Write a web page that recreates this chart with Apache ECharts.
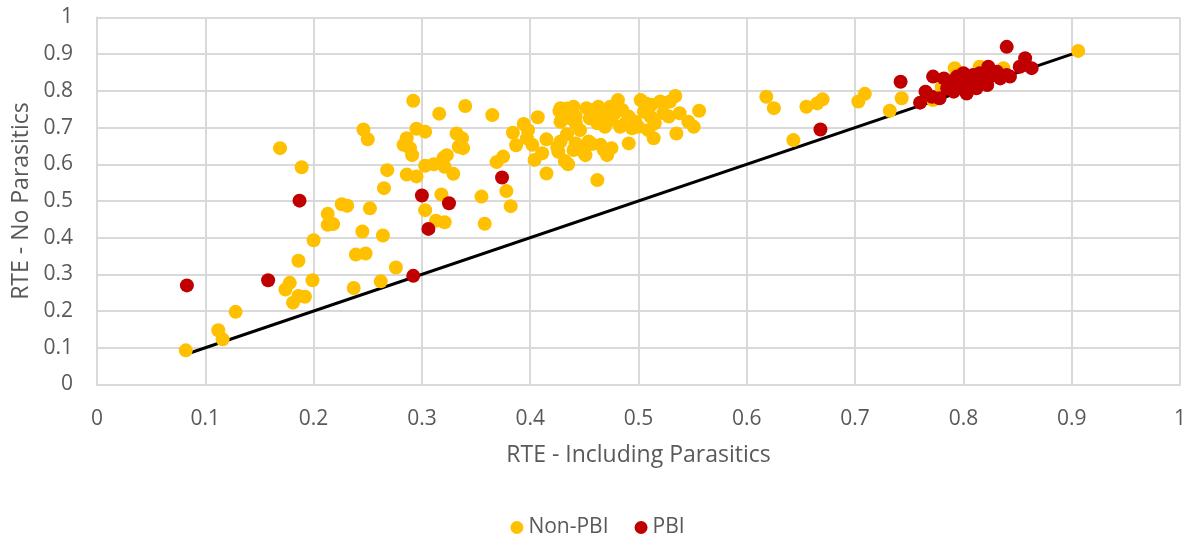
<!DOCTYPE html>
<html>
<head>
<meta charset="utf-8">
<title>RTE scatter</title>
<script src="https://cdn.jsdelivr.net/npm/echarts@6/dist/echarts.min.js"></script>
<style>
  html, body { margin: 0; padding: 0; background: #fff; }
  #chart { width: 1195px; height: 538px; }
</style>
</head>
<body>
<div id="chart"></div>
<script>
// 坐标轴刻度
const xTicks = [0, 0.1, 0.2, 0.3, 0.4, 0.5, 0.6, 0.7, 0.8, 0.9, 1];
const yTicks = [0, 0.1, 0.2, 0.3, 0.4, 0.5, 0.6, 0.7, 0.8, 0.9, 1];

// Non-PBI: [RTE incl. parasitics, RTE no parasitics]
const nonPbi = [
    [0.082, 0.093], [0.112, 0.148], [0.116, 0.123], [0.128, 0.198],
    [0.169, 0.644], [0.189, 0.592],
    [0.174, 0.259], [0.178, 0.277], [0.181, 0.223], [0.186, 0.241], [0.192, 0.239], [0.186, 0.337], [0.199, 0.284],
    [0.200, 0.393], [0.213, 0.465], [0.213, 0.435], [0.218, 0.437], [0.226, 0.491], [0.231, 0.487],
    [0.237, 0.263], [0.239, 0.354], [0.248, 0.357], [0.245, 0.417], [0.246, 0.695], [0.250, 0.668], [0.252, 0.480],
    [0.262, 0.281], [0.264, 0.406], [0.265, 0.535], [0.268, 0.584], [0.276, 0.319],
    [0.283, 0.653], [0.286, 0.671], [0.289, 0.644], [0.291, 0.625], [0.286, 0.572], [0.295, 0.567],
    [0.292, 0.773], [0.295, 0.697], [0.303, 0.689],
    [0.303, 0.596], [0.311, 0.600], [0.303, 0.475], [0.313, 0.446], [0.321, 0.442], [0.316, 0.738], [0.318, 0.518],
    [0.321, 0.593], [0.329, 0.574], [0.320, 0.618], [0.323, 0.625], [0.332, 0.684], [0.337, 0.671],
    [0.334, 0.648], [0.338, 0.644], [0.340, 0.759],
    [0.355, 0.512], [0.358, 0.438], [0.365, 0.734], [0.369, 0.606], [0.375, 0.621], [0.378, 0.527], [0.382, 0.486],
    [0.384, 0.686], [0.387, 0.652], [0.394, 0.710], [0.398, 0.693], [0.397, 0.671], [0.402, 0.653], [0.404, 0.612],
    [0.407, 0.728], [0.411, 0.630], [0.415, 0.668], [0.415, 0.575],
    [0.425, 0.646], [0.428, 0.662], [0.434, 0.682], [0.426, 0.634], [0.432, 0.609], [0.435, 0.600],
    [0.428, 0.716], [0.427, 0.745], [0.428, 0.753], [0.434, 0.752], [0.437, 0.725], [0.442, 0.712],
    [0.446, 0.693], [0.443, 0.653], [0.449, 0.634], [0.451, 0.625], [0.454, 0.662],
    [0.429, 0.721], [0.440, 0.757], [0.442, 0.730], [0.452, 0.753], [0.455, 0.725], [0.458, 0.748],
    [0.462, 0.712], [0.463, 0.757], [0.465, 0.730], [0.469, 0.702], [0.471, 0.739], [0.474, 0.757],
    [0.475, 0.721], [0.478, 0.739], [0.481, 0.775], [0.483, 0.702], [0.485, 0.748], [0.488, 0.712],
    [0.491, 0.730], [0.494, 0.698], [0.497, 0.716], [0.500, 0.702], [0.502, 0.775], [0.505, 0.743],
    [0.507, 0.766], [0.511, 0.730], [0.512, 0.762], [0.515, 0.712], [0.509, 0.693], [0.514, 0.671],
    [0.520, 0.771], [0.523, 0.739], [0.528, 0.730], [0.529, 0.771], [0.534, 0.786], [0.535, 0.684],
    [0.538, 0.739], [0.546, 0.716], [0.551, 0.702], [0.556, 0.746],
    [0.440, 0.639], [0.442, 0.657], [0.457, 0.655], [0.465, 0.653], [0.468, 0.639], [0.471, 0.625],
    [0.475, 0.644], [0.491, 0.657], [0.462, 0.557],
    [0.618, 0.784], [0.625, 0.753], [0.643, 0.666], [0.655, 0.757], [0.665, 0.766], [0.670, 0.777],
    [0.703, 0.771], [0.709, 0.792], [0.732, 0.746], [0.743, 0.780], [0.772, 0.775],
    [0.792, 0.862], [0.815, 0.866], [0.837, 0.862], [0.780, 0.810], [0.790, 0.830], [0.800, 0.840],
    [0.810, 0.820], [0.825, 0.850], [0.906, 0.909]
];

// PBI
const pbi = [
    [0.083, 0.270], [0.158, 0.284], [0.187, 0.501], [0.292, 0.296], [0.300, 0.515], [0.306, 0.424],
    [0.325, 0.494], [0.374, 0.564], [0.668, 0.695], [0.742, 0.825],
    [0.760, 0.768], [0.765, 0.798], [0.771, 0.784], [0.778, 0.780], [0.772, 0.839], [0.782, 0.834],
    [0.788, 0.825], [0.794, 0.839], [0.800, 0.848], [0.803, 0.834], [0.806, 0.816], [0.809, 0.843],
    [0.815, 0.848], [0.818, 0.825], [0.823, 0.866], [0.826, 0.843], [0.831, 0.852], [0.834, 0.834],
    [0.840, 0.843], [0.843, 0.839], [0.785, 0.807], [0.791, 0.798], [0.797, 0.807], [0.803, 0.793],
    [0.812, 0.807], [0.822, 0.816], [0.840, 0.920], [0.857, 0.889], [0.863, 0.862], [0.852, 0.866],
    [0.790, 0.815], [0.800, 0.820]
];

// 1:1 参考线
const refLine = [[0.083, 0.083], [0.905, 0.905]];

const labelColor = '#595959';
const gridColor = '#d9d9d9';
const fontFamily = '"Open Sans", "Noto Sans", sans-serif';

const myChart = echarts.init(document.getElementById('chart'));
const option = {
    animation: false,
    textStyle: { fontFamily: fontFamily },
    grid: {
        left: 97,
        right: 15,
        top: 17.5,
        bottom: 153.5
    },
    legend: {
        data: ['Non-PBI', 'PBI'],
        top: 512,
        left: 'center',
        icon: 'circle',
        itemWidth: 13,
        itemHeight: 13,
        itemGap: 26,
        textStyle: { color: labelColor, fontSize: 21, fontFamily: fontFamily }
    },
    xAxis: {
        type: 'value',
        min: xTicks[0],
        max: xTicks[xTicks.length - 1],
        interval: 0.1,
        name: 'RTE - Including Parasitics',
        nameLocation: 'middle',
        nameGap: 59,
        nameTextStyle: { color: labelColor, fontSize: 23, fontFamily: fontFamily },
        axisLine: { show: true, lineStyle: { color: gridColor, width: 2 } },
        axisTick: { show: false },
        axisLabel: { color: labelColor, fontSize: 21, margin: 24 },
        splitLine: { show: true, lineStyle: { color: gridColor, width: 2 } }
    },
    yAxis: {
        type: 'value',
        min: yTicks[0],
        max: yTicks[yTicks.length - 1],
        interval: 0.1,
        name: 'RTE - No Parasitics',
        nameLocation: 'middle',
        nameGap: 62,
        nameTextStyle: { color: labelColor, fontSize: 23, fontFamily: fontFamily },
        axisLine: { show: true, lineStyle: { color: gridColor, width: 2 } },
        axisTick: { show: false },
        axisLabel: { color: labelColor, fontSize: 21, margin: 24 },
        splitLine: { show: true, lineStyle: { color: gridColor, width: 2 } }
    },
    series: [
        {
            name: 'ref',
            type: 'line',
            data: refLine,
            showSymbol: false,
            symbol: 'none',
            lineStyle: { color: '#000', width: 3 },
            silent: true,
            z: 1
        },
        {
            name: 'Non-PBI',
            type: 'scatter',
            data: nonPbi,
            symbolSize: 14,
            itemStyle: { color: '#FFC000', opacity: 1 },
            z: 2
        },
        {
            name: 'PBI',
            type: 'scatter',
            data: pbi,
            symbolSize: 14,
            itemStyle: { color: '#C00000', opacity: 1 },
            z: 3
        }
    ]
};
myChart.setOption(option);
window.addEventListener('resize', () => {
    myChart.resize();
});
</script>
</body>
</html>
